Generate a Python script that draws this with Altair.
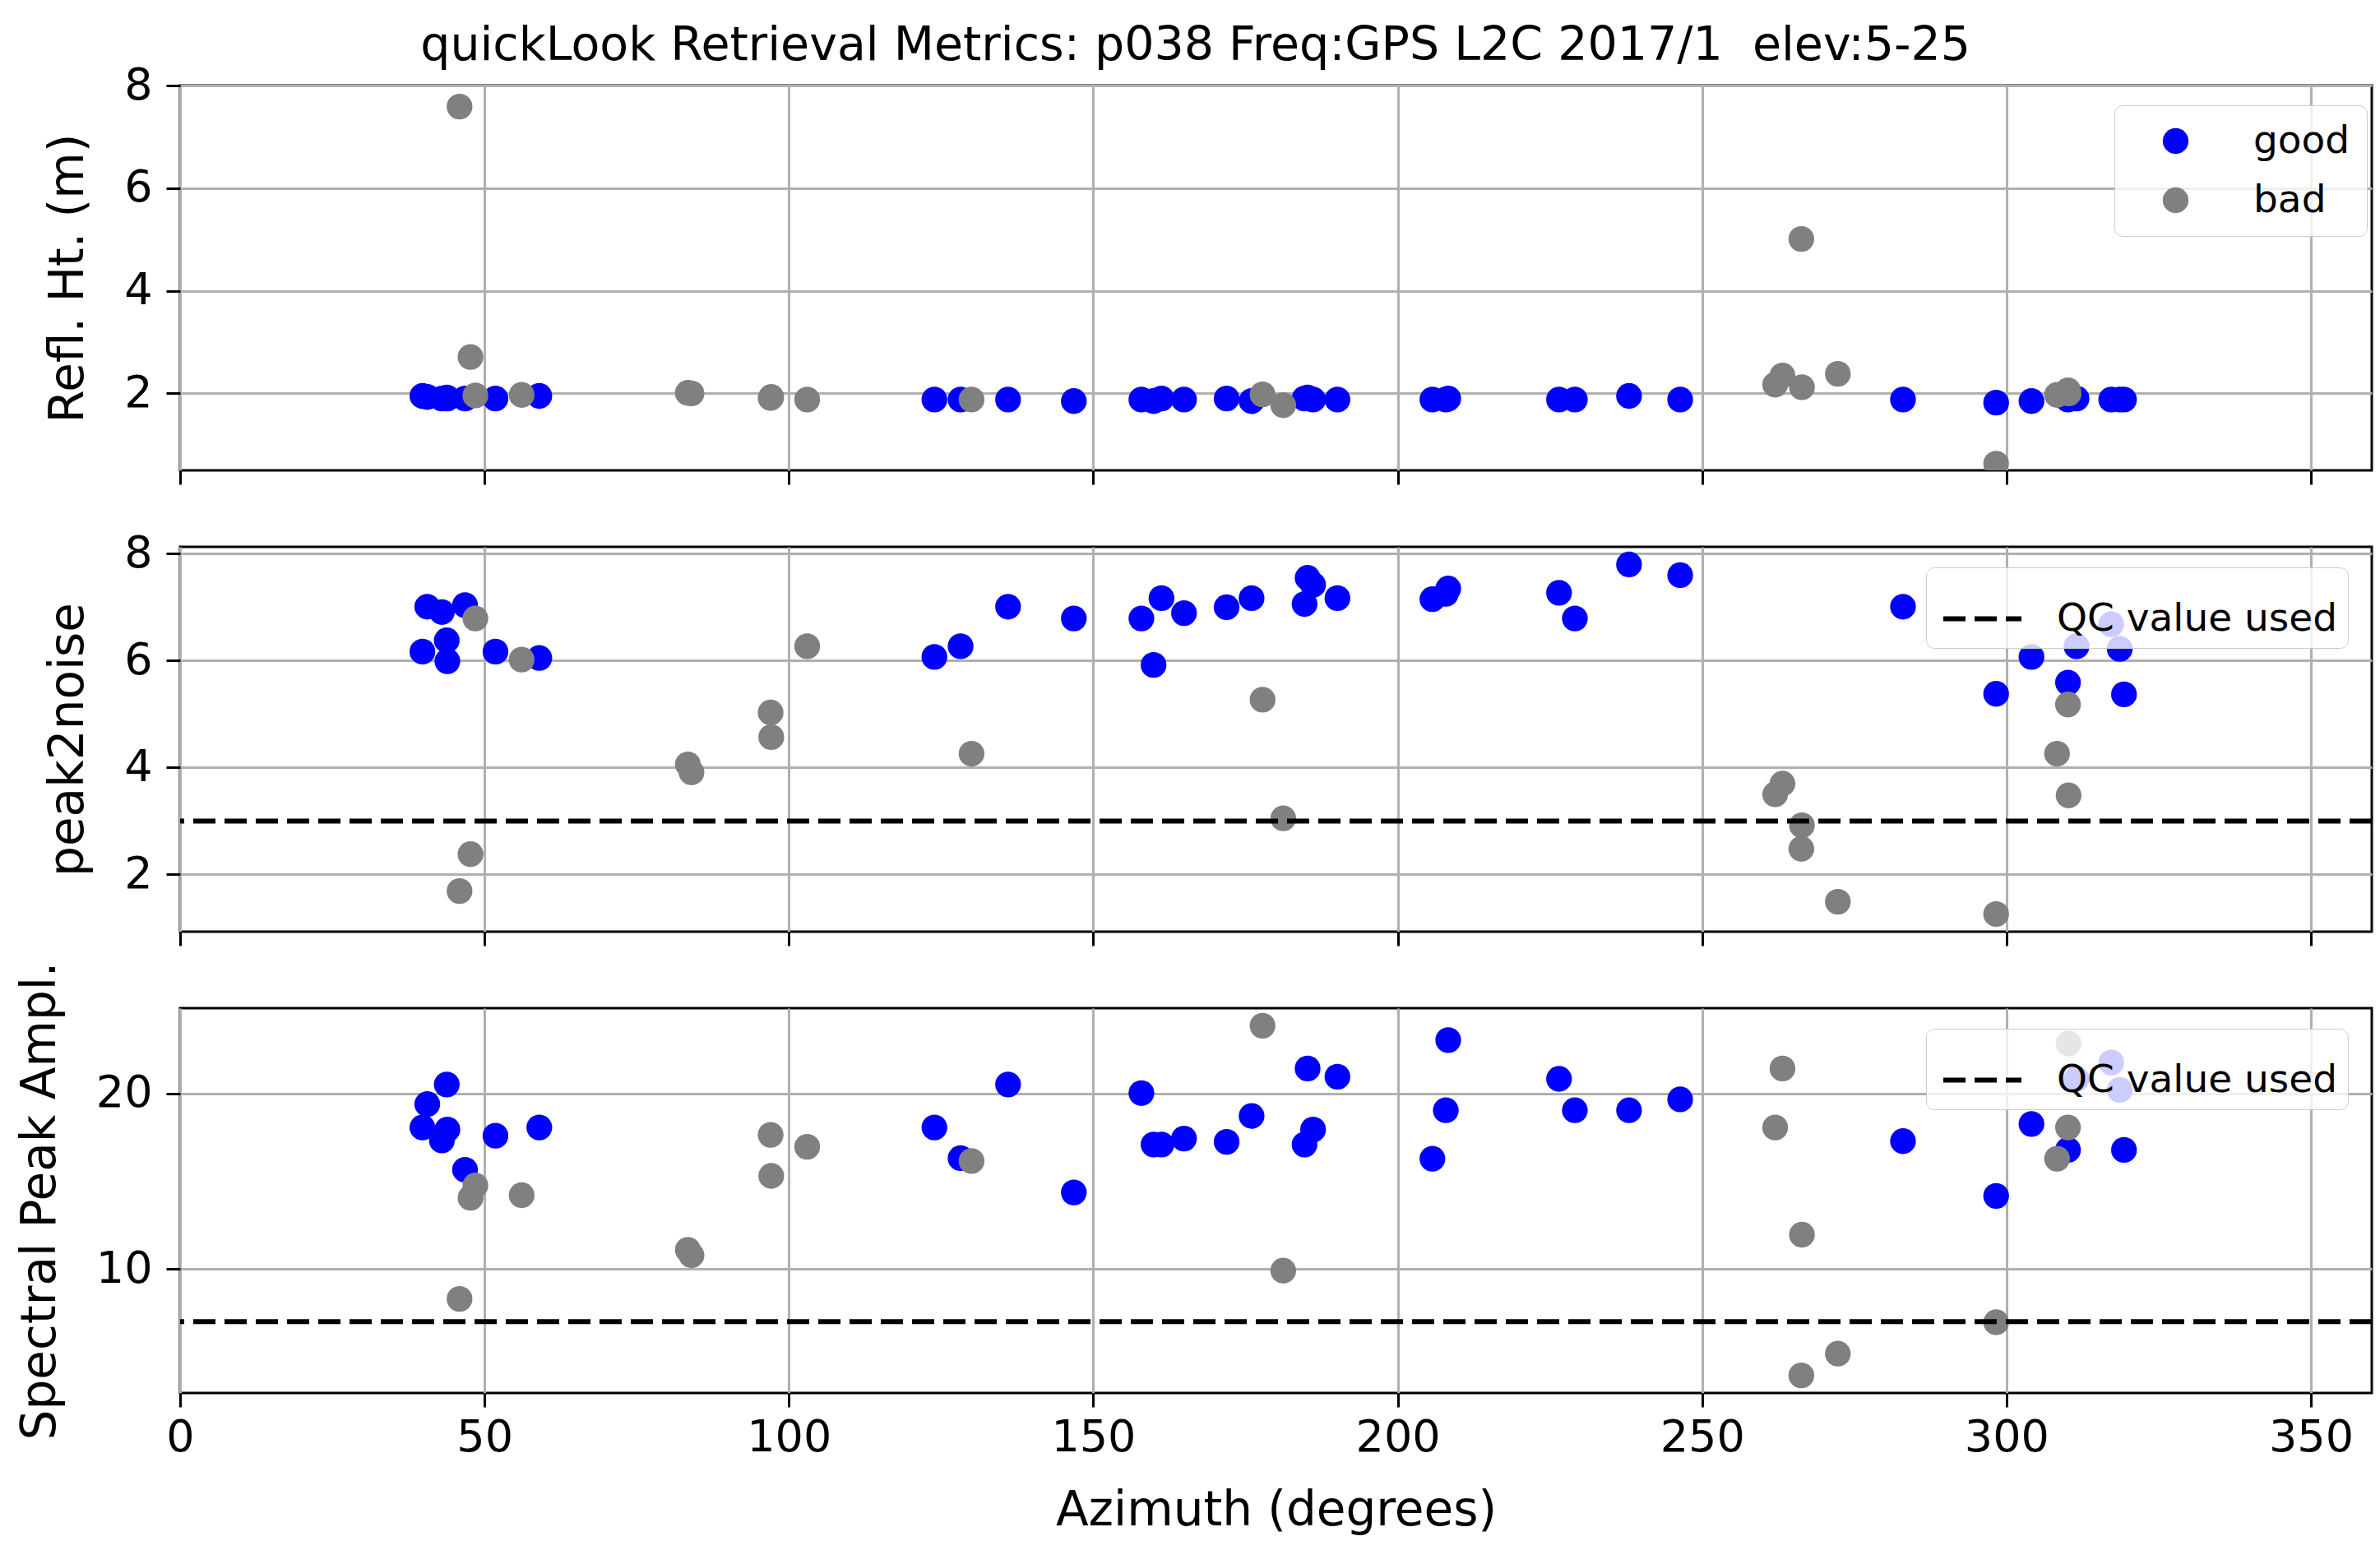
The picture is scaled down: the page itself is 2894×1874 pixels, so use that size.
import altair as alt
import pandas as pd

# ---- data ----
good_az  = [39.8, 40.6, 43.0, 43.8, 43.9, 46.8, 51.8, 59.0, 123.9, 128.2, 136.0, 146.8,
            157.9, 159.9, 161.2, 164.9, 171.9, 176.0, 184.7, 185.2, 186.1, 190.1,
            205.7, 207.9, 208.3, 226.5, 229.1, 238.0, 246.4, 283.0, 298.3, 304.1,
            310.1, 311.5, 317.2, 318.6, 319.3]
good_rh  = [1.95, 1.93, 1.90, 1.92, 1.90, 1.90, 1.90, 1.95, 1.88, 1.88, 1.88, 1.85,
            1.88, 1.85, 1.90, 1.88, 1.90, 1.85, 1.90, 1.92, 1.88, 1.88,
            1.88, 1.88, 1.90, 1.88, 1.88, 1.95, 1.88, 1.88, 1.82, 1.85,
            1.88, 1.90, 1.88, 1.88, 1.88]
good_p2n = [6.17, 7.01, 6.91, 6.38, 5.99, 7.04, 6.17, 6.05, 6.07, 6.27, 7.01, 6.79,
            6.79, 5.92, 7.17, 6.89, 7.00, 7.17, 7.06, 7.55, 7.42, 7.17,
            7.15, 7.25, 7.35, 7.27, 6.79, 7.80, 7.60, 7.01, 5.38, 6.07,
            5.59, 6.27, 6.68, 6.22, 5.37]
good_amp = [18.06, 19.39, 17.32, 20.51, 17.94, 15.65, 17.59, 18.06, 18.06, 16.31, 20.51, 14.36,
            20.02, 17.09, 17.09, 17.43, 17.24, 18.72, 17.09, 21.42, 17.94, 20.95,
            16.28, 19.04, 23.04, 20.83, 19.04, 19.04, 19.66, 17.28, 14.16, 18.26,
            16.78, 20.83, 21.76, 20.20, 16.78]

bad_az  = [45.9, 47.7, 48.5, 56.1, 83.4, 84.0, 97.0, 97.1, 103.0, 130.0, 177.8, 181.2,
           262.0, 263.2, 266.3, 266.4, 272.3, 298.3, 308.3, 310.1, 310.2]
bad_rh  = [7.59, 2.71, 1.96, 1.97, 2.01, 2.00, 1.91, 1.93, 1.88, 1.88, 1.98, 1.77,
           2.17, 2.35, 5.01, 2.12, 2.38, 0.63, 1.97, 2.06, 2.00]
bad_p2n = [1.69, 2.38, 6.79, 6.02, 4.06, 3.91, 5.03, 4.57, 6.27, 4.26, 5.27, 3.05,
           3.50, 3.70, 2.48, 2.92, 1.49, 1.26, 4.26, 5.18, 3.48]
bad_amp = [8.29, 14.05, 14.75, 14.20, 11.09, 10.78, 17.64, 15.30, 16.96, 16.15, 23.86, 9.90,
           18.06, 21.42, 3.93, 11.95, 5.17, 6.96, 16.28, 18.06, 22.85]

qc_p2n = 3.0
qc_amp = 7.0
x_ticks = [0, 50, 100, 150, 200, 250, 300, 350]

# ---- tables ----
df = pd.DataFrame({
    "az": good_az + bad_az,
    "rh": good_rh + bad_rh,
    "p2n": good_p2n + bad_p2n,
    "amp": good_amp + bad_amp,
    "status": ["good"] * len(good_az) + ["bad"] * len(bad_az),
})
qc1 = pd.DataFrame({"v": [qc_p2n], "lab": ["QC value used"]})
qc2 = pd.DataFrame({"v": [qc_amp], "lab": ["QC value used"]})

FONT = "DejaVu Sans"
W, H = 2665, 468
PT_SIZE = 980
LEG_FS = 47

color_scale = alt.Scale(domain=["good", "bad"], range=["#0000ff", "#808080"])
xscale = alt.Scale(domain=[0, 360], nice=False, zero=False)


def xenc(show):
    if show:
        ax = alt.Axis(values=x_ticks, title="Azimuth (degrees)", labelFlush=False, format="d")
    else:
        ax = alt.Axis(values=x_ticks, title=None, labels=False)
    return alt.X("az:Q", scale=xscale, axis=ax)


def points(field, dom, ticks, title, legend, show_x):
    return alt.Chart(df).mark_circle(size=PT_SIZE, opacity=1, clip=True).encode(
        x=xenc(show_x),
        y=alt.Y(f"{field}:Q", scale=alt.Scale(domain=dom, nice=False, zero=False),
                axis=alt.Axis(values=ticks, title=title, format="d")),
        color=alt.Color("status:N", scale=color_scale, legend=legend, sort=["good", "bad"]),
    )


legend_good = alt.Legend(
    title=None, orient="none", legendX=2352, legendY=24, padding=20, symbolOffset=31,
    labelOffset=71, rowPadding=24, labelFontSize=LEG_FS, labelFont=FONT, labelColor="black",
    labelLimit=0, symbolSize=PT_SIZE, symbolType="circle", symbolOpacity=1,
    symbolStrokeWidth=0,
    fillColor="rgba(255,255,255,0.8)", strokeColor="#cccccc", cornerRadius=10,
)


def qc_rule(qdf):
    return alt.Chart(qdf).mark_rule(color="black", strokeWidth=6).encode(
        y=alt.Y("v:Q"),
        strokeDash=alt.StrokeDash(
            "lab:N",
            scale=alt.Scale(domain=["QC value used"], range=[[27, 11]]),
            legend=alt.Legend(
                title=None, orient="none", legendX=2123, legendY=25, padding=12,
                symbolOffset=6, labelOffset=40, labelFontSize=LEG_FS, labelFont=FONT,
                labelColor="black", labelLimit=0,
                symbolType="stroke", symbolSize=9025, symbolStrokeWidth=6,
                symbolStrokeColor="black", symbolDash=[26, 10],
                fillColor="rgba(255,255,255,0.8)", strokeColor="#cccccc", cornerRadius=10,
            ),
        ),
    )


p1 = points("rh", [0.5, 8.0], [2, 4, 6, 8], "Refl. Ht. (m)", legend_good, False).properties(
    width=W, height=H)
p2 = alt.layer(
    points("p2n", [0.93, 8.13], [2, 4, 6, 8], "peak2noise", None, False),
    qc_rule(qc1),
).resolve_scale(y="shared").properties(width=W, height=H)
p3 = alt.layer(
    points("amp", [2.93, 24.86], [10, 20], "Spectral Peak Ampl.", None, True),
    qc_rule(qc2),
).resolve_scale(y="shared").properties(width=W, height=H)

chart = alt.vconcat(p1, p2, p3, spacing=93, bounds="flush").resolve_scale(
    color="independent", strokeDash="independent"
).resolve_legend(
    color="independent", strokeDash="independent"
).properties(
    title=alt.TitleParams(
        text="quickLook Retrieval Metrics: p038 Freq:GPS L2C 2017/1\u00a0 elev:5-25",
        fontSize=57, font=FONT, fontWeight="normal", color="black",
        anchor="middle", offset=-9,
    ),
    padding={"left": 18, "top": 26, "right": 0, "bottom": 2},
    background="white",
).configure_view(
    stroke="black", strokeWidth=3
).configure_axis(
    grid=True, gridColor="#b0b0b0", gridWidth=3, domain=False,
    tickSize=17, tickWidth=3, tickColor="black",
    labelFont=FONT, labelFontSize=54, labelColor="black",
    titleFont=FONT, titleFontSize=58, titleFontWeight="normal", titleColor="black",
).configure_axisX(
    labelPadding=10, titlePadding=33,
).configure_axisY(
    labelPadding=17, titlePadding=38,
)

chart.save("out.html", embed_options={"renderer": "svg", "actions": False})
